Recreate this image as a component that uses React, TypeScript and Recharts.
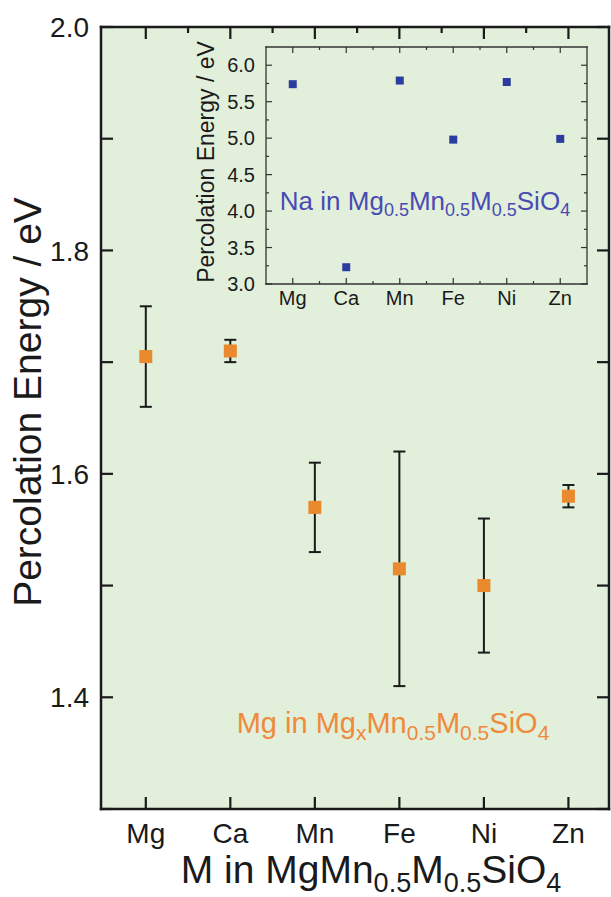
import React from 'react';
import { ScatterChart, Scatter, XAxis, YAxis, ErrorBar, CartesianGrid, Label } from 'recharts';

const elements = ['Mg', 'Ca', 'Mn', 'Fe', 'Ni', 'Zn'];

// Mg in MgxMn0.5M0.5SiO4 (main plot), eV
const mgEnergy = [1.705, 1.71, 1.57, 1.515, 1.5, 1.58];
const mgErrTop = [1.75, 1.72, 1.61, 1.62, 1.56, 1.59];
const mgErrBottom = [1.66, 1.7, 1.53, 1.41, 1.44, 1.57];

// Na in Mg0.5Mn0.5M0.5SiO4 (inset), eV
const naEnergy = [5.74, 3.23, 5.79, 4.98, 5.77, 4.99];

const mainYTicks = [1.3, 1.4, 1.5, 1.6, 1.7, 1.8, 1.9, 2.0];
const mainXTicks = [1, 1.5, 2, 2.5, 3, 3.5, 4, 4.5, 5, 5.5, 6];
const insetYTicks = [3, 3.25, 3.5, 3.75, 4, 4.25, 4.5, 4.75, 5, 5.25, 5.5, 5.75, 6];
const insetXTicks = [1, 1.5, 2, 2.5, 3, 3.5, 4, 4.5, 5, 5.5, 6];

const mgData = elements.map((name, i) => ({
  x: i + 1,
  name,
  y: mgEnergy[i],
  err: [mgEnergy[i] - mgErrBottom[i], mgErrTop[i] - mgEnergy[i]],
}));
const naData = elements.map((name, i) => ({ x: i + 1, name, y: naEnergy[i] }));

const FONT = '"Liberation Sans", Arial, Helvetica, sans-serif';
const INK = '#1a1a1a';
const BG = '#e2efda';
const ORANGE = '#e98a2e';
const BLUE = '#2b3c9f';

// plot frames (chart pixel coords) - the ticks point inward from these
const MAIN = { left: 101, right: 609, top: 27, bottom: 809 };
const INSET = { left: 86, right: 407, top: 7, bottom: 244 };

const isInt = (v: number) => Math.abs(v - Math.round(v)) < 1e-6;

const square = (size: number, fill: string) => (props: any) => (
  <rect x={props.cx - size / 2} y={props.cy - size / 2} width={size} height={size} fill={fill} />
);

// ---- main plot ticks: bottom axis draws bottom + top marks, left axis draws left + right ----
const MainXTick = (props: any) => {
  const { x, payload } = props;
  const major = isInt(payload.value);
  return (
    <g stroke={INK} strokeWidth={2.2}>
      {major && <line x1={x} x2={x} y1={MAIN.bottom} y2={MAIN.bottom - 12} />}
      <line x1={x} x2={x} y1={MAIN.top} y2={MAIN.top + (major ? 12 : 6)} />
      {major && (
        <text x={x} y={843} textAnchor="middle" fontSize={28} fontFamily={FONT} fill={INK} stroke="none">
          {elements[payload.value - 1]}
        </text>
      )}
    </g>
  );
};

const MainYTick = (props: any) => {
  const { y, payload } = props;
  const v = payload.value;
  const labelled = Math.round(v * 10) % 2 === 0 && v > 1.35;
  return (
    <g stroke={INK} strokeWidth={2.2}>
      <line x1={MAIN.left} x2={MAIN.left + 12} y1={y} y2={y} />
      <line x1={MAIN.right} x2={MAIN.right - 12} y1={y} y2={y} />
      {labelled && (
        <text x={89} y={y} dy="0.36em" textAnchor="end" fontSize={28} fontFamily={FONT} fill={INK} stroke="none">
          {v.toFixed(1)}
        </text>
      )}
    </g>
  );
};

// ---- inset ticks ----
const InsetXTick = (props: any) => {
  const { x, payload } = props;
  const major = isInt(payload.value);
  const len = major ? 6 : 3;
  return (
    <g stroke="#333" strokeWidth={1.2}>
      <line x1={x} x2={x} y1={INSET.bottom} y2={INSET.bottom - len} />
      <line x1={x} x2={x} y1={INSET.top} y2={INSET.top + len} />
      {major && (
        <text x={x} y={265} textAnchor="middle" fontSize={20} fontFamily={FONT} fill={INK} stroke="none">
          {elements[payload.value - 1]}
        </text>
      )}
    </g>
  );
};

const InsetYTick = (props: any) => {
  const { y, payload } = props;
  const v = payload.value;
  const major = isInt(v * 2);
  const len = major ? 6 : 3;
  return (
    <g stroke="#333" strokeWidth={1.2}>
      <line x1={INSET.left} x2={INSET.left + len} y1={y} y2={y} />
      <line x1={INSET.right} x2={INSET.right - len} y1={y} y2={y} />
      {major && (
        <text x={75} y={y} dy="0.36em" textAnchor="end" fontSize={20} fontFamily={FONT} fill={INK} stroke="none">
          {v.toFixed(1)}
        </text>
      )}
    </g>
  );
};

const mainAxisLine = { stroke: INK, strokeWidth: 2.5, strokeLinecap: 'square' as const };
const insetAxisLine = { stroke: '#333', strokeWidth: 1.3, strokeLinecap: 'square' as const };

export default function App() {
  return (
    <div style={{ position: 'absolute', left: 0, top: 0, width: 611, height: 897, background: '#fff', fontFamily: FONT }}>
      <div style={{ position: 'absolute', left: 0, top: 0 }}>
        <ScatterChart width={611} height={897} margin={{ top: 26, right: 1, bottom: 0, left: 0 }}>
          <CartesianGrid horizontal={false} vertical={false} fill={BG} />
          <XAxis
            type="number"
            dataKey="x"
            domain={[0.47, 6.48]}
            ticks={mainXTicks}
            interval={0}
            height={88}
            tickLine={false}
            tick={MainXTick}
            axisLine={mainAxisLine}
            allowDataOverflow
          >
            <Label
              content={() => (
                <text x={371} y={883} textAnchor="middle" fontSize={39} fontFamily={FONT} fill={INK}>
                  M in MgMn<tspan dy={9} fontSize={27}>0.5</tspan>
                  <tspan dy={-9}>M</tspan>
                  <tspan dy={9} fontSize={27}>0.5</tspan>
                  <tspan dy={-9}>SiO</tspan>
                  <tspan dy={9} fontSize={27}>4</tspan>
                </text>
              )}
            />
          </XAxis>
          <XAxis
            xAxisId="top"
            orientation="top"
            type="number"
            domain={[0.47, 6.48]}
            height={1}
            tick={false}
            tickLine={false}
            axisLine={mainAxisLine}
          />
          <YAxis
            type="number"
            dataKey="y"
            domain={[1.3, 2.0]}
            ticks={mainYTicks}
            interval={0}
            width={101}
            tickLine={false}
            tick={MainYTick}
            axisLine={mainAxisLine}
            allowDataOverflow
          >
            <Label
              content={() => (
                <text
                  x={41}
                  y={402}
                  transform="rotate(-90 41 402)"
                  textAnchor="middle"
                  fontSize={39}
                  fontFamily={FONT}
                  fill={INK}
                >
                  Percolation Energy / eV
                </text>
              )}
            />
          </YAxis>
          <YAxis
            yAxisId="right"
            orientation="right"
            type="number"
            domain={[1.3, 2.0]}
            width={1}
            tick={false}
            tickLine={false}
            axisLine={mainAxisLine}
          />
          <Scatter data={mgData} dataKey="y" shape={square(13, ORANGE)} isAnimationActive={false}>
            <ErrorBar dataKey="err" direction="y" width={6} stroke={INK} strokeWidth={2} isAnimationActive={false} />
          </Scatter>
        </ScatterChart>
      </div>

      <div style={{ position: 'absolute', left: 180, top: 40 }}>
        <ScatterChart width={420} height={280} margin={{ top: 6, right: 12, bottom: 0, left: 0 }}>
          <XAxis
            type="number"
            dataKey="x"
            domain={[0.5, 6.5]}
            ticks={insetXTicks}
            interval={0}
            height={36}
            tickLine={false}
            tick={InsetXTick}
            axisLine={insetAxisLine}
          />
          <XAxis
            xAxisId="top"
            orientation="top"
            type="number"
            domain={[0.5, 6.5]}
            height={1}
            tick={false}
            tickLine={false}
            axisLine={insetAxisLine}
          />
          <YAxis
            type="number"
            dataKey="y"
            domain={[3, 6.25]}
            ticks={insetYTicks}
            interval={0}
            width={86}
            tickLine={false}
            tick={InsetYTick}
            axisLine={insetAxisLine}
            allowDataOverflow
          >
            <Label
              content={() => (
                <text
                  x={34}
                  y={122}
                  transform="rotate(-90 34 122)"
                  textAnchor="middle"
                  fontSize={23}
                  fontFamily={FONT}
                  fill={INK}
                >
                  Percolation Energy / eV
                </text>
              )}
            />
          </YAxis>
          <YAxis
            yAxisId="right"
            orientation="right"
            type="number"
            domain={[3, 6.25]}
            width={1}
            tick={false}
            tickLine={false}
            axisLine={insetAxisLine}
          />
          <Scatter data={naData} dataKey="y" shape={square(8, BLUE)} isAnimationActive={false} />
        </ScatterChart>
      </div>

      <svg
        width={611}
        height={897}
        style={{ position: 'absolute', left: 0, top: 0, pointerEvents: 'none' }}
      >
        <text x={425} y={210} textAnchor="middle" fontSize={26} fontFamily={FONT} fill="#4a4ab4">
          Na in Mg<tspan dy={6} fontSize={18}>0.5</tspan>
          <tspan dy={-6}>Mn</tspan>
          <tspan dy={6} fontSize={18}>0.5</tspan>
          <tspan dy={-6}>M</tspan>
          <tspan dy={6} fontSize={18}>0.5</tspan>
          <tspan dy={-6}>SiO</tspan>
          <tspan dy={6} fontSize={18}>4</tspan>
        </text>
        <text x={393} y={733} textAnchor="middle" fontSize={29} fontFamily={FONT} fill="#ee8a3c">
          Mg in Mg<tspan dy={7} fontSize={21}>x</tspan>
          <tspan dy={-7}>Mn</tspan>
          <tspan dy={7} fontSize={21}>0.5</tspan>
          <tspan dy={-7}>M</tspan>
          <tspan dy={7} fontSize={21}>0.5</tspan>
          <tspan dy={-7}>SiO</tspan>
          <tspan dy={7} fontSize={21}>4</tspan>
        </text>
      </svg>
    </div>
  );
}
